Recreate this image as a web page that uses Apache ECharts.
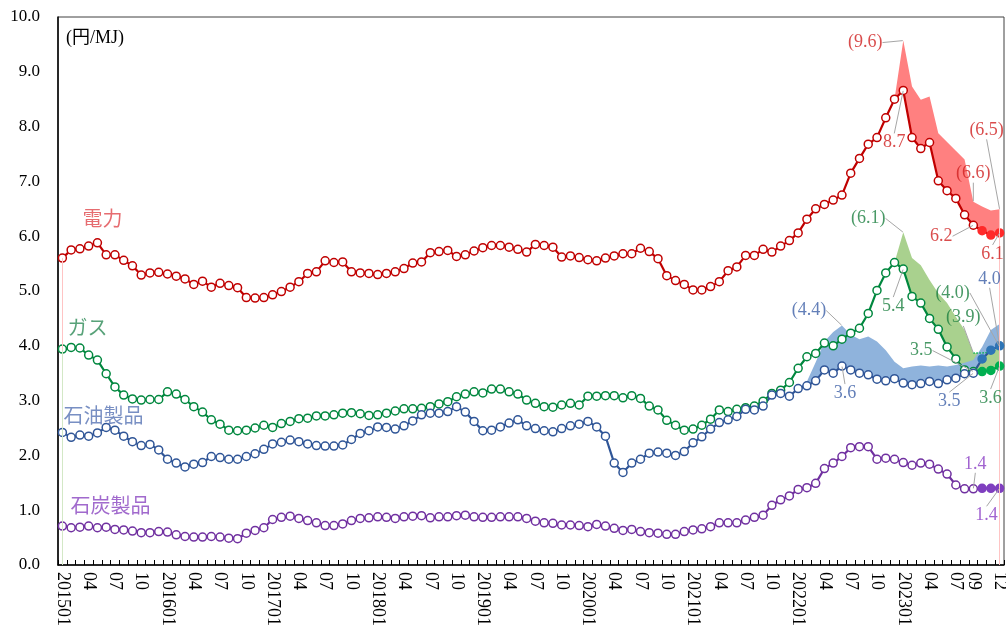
<!DOCTYPE html>
<html>
<head>
<meta charset="utf-8">
<script src="https://cdn.jsdelivr.net/npm/echarts@6.0.0/dist/echarts.min.js"></script>
<style>
html,body{margin:0;padding:0;background:#fff;}
#chart{width:1006px;height:639px;}
</style>
</head>
<body>
<div id="chart"></div>
<script>
// 月次カテゴリ 201501〜202312
var months = [];
for (var y = 2015; y <= 2023; y++) {
  for (var m = 1; m <= 12; m++) months.push(y + (m < 10 ? '0' : '') + m);
}
// 目盛ラベルを出す月
var tickMonths = [
  '201501','201504','201507','201510','201601','201604','201607','201610',
  '201701','201704','201707','201710','201801','201804','201807','201810',
  '201901','201904','201907','201910','202001','202004','202007','202010',
  '202101','202104','202107','202110','202201','202204','202207','202210',
  '202301','202304','202307','202309','202312'
];
var yTicks = [0, 1, 2, 3, 4, 5, 6, 7, 8, 9, 10];

// 円/MJ
var electricity = [
  5.60,5.75,5.77,5.82,5.88,5.66,5.66,5.56,5.46,5.29,5.33,5.34,
  5.31,5.27,5.22,5.12,5.18,5.07,5.14,5.10,5.06,4.88,4.87,4.88,
  4.93,4.99,5.07,5.17,5.32,5.35,5.55,5.52,5.53,5.35,5.33,5.32,
  5.30,5.32,5.35,5.41,5.51,5.53,5.70,5.72,5.74,5.63,5.66,5.73,
  5.79,5.83,5.83,5.80,5.76,5.71,5.85,5.83,5.80,5.62,5.64,5.61,
  5.57,5.55,5.60,5.64,5.68,5.68,5.78,5.72,5.59,5.28,5.19,5.12,
  5.02,5.02,5.08,5.17,5.37,5.44,5.65,5.65,5.76,5.71,5.82,5.92,
  6.06,6.31,6.50,6.58,6.66,6.75,7.15,7.42,7.68,7.80,8.16,8.50,
  8.66,7.80,7.60,7.71,7.01,6.83,6.69,6.39,6.20,6.10,6.02,6.06
];
var gas = [
  3.94,3.97,3.96,3.83,3.74,3.49,3.25,3.10,3.03,3.01,3.02,3.02,
  3.16,3.12,3.02,2.89,2.79,2.65,2.57,2.46,2.45,2.46,2.50,2.55,
  2.51,2.58,2.62,2.67,2.68,2.72,2.72,2.74,2.77,2.78,2.76,2.73,
  2.74,2.77,2.81,2.85,2.85,2.86,2.89,2.94,2.98,3.07,3.12,3.16,
  3.14,3.21,3.21,3.16,3.12,3.01,2.95,2.89,2.88,2.92,2.95,2.92,
  3.08,3.08,3.09,3.09,3.05,3.09,3.04,2.90,2.83,2.64,2.55,2.46,
  2.48,2.55,2.66,2.83,2.80,2.84,2.87,2.90,2.99,3.13,3.19,3.33,
  3.59,3.80,3.86,4.05,4.00,4.12,4.23,4.32,4.59,5.01,5.33,5.52,
  5.40,4.90,4.78,4.50,4.30,3.98,3.76,3.56,3.53,3.53,3.55,3.63
];
var oil = [
  2.42,2.33,2.37,2.35,2.41,2.51,2.46,2.35,2.25,2.18,2.20,2.10,
  1.93,1.86,1.79,1.84,1.87,1.98,1.96,1.93,1.93,1.98,2.03,2.11,
  2.21,2.24,2.28,2.25,2.21,2.18,2.17,2.17,2.19,2.29,2.40,2.45,
  2.52,2.51,2.48,2.54,2.63,2.74,2.77,2.77,2.80,2.89,2.79,2.62,
  2.45,2.46,2.52,2.59,2.65,2.54,2.49,2.45,2.43,2.49,2.54,2.57,
  2.62,2.52,2.35,1.86,1.69,1.86,1.93,2.04,2.06,2.04,2.00,2.07,
  2.23,2.34,2.48,2.60,2.65,2.71,2.84,2.83,2.90,3.10,3.13,3.08,
  3.22,3.27,3.36,3.56,3.50,3.63,3.56,3.50,3.47,3.39,3.36,3.40,
  3.32,3.29,3.31,3.35,3.31,3.38,3.41,3.49,3.50,3.76,3.92,4.00
];
var coal = [
  0.71,0.68,0.69,0.71,0.68,0.69,0.65,0.64,0.62,0.59,0.59,0.61,
  0.60,0.55,0.52,0.51,0.51,0.52,0.51,0.49,0.48,0.58,0.63,0.68,
  0.83,0.87,0.89,0.85,0.81,0.77,0.72,0.72,0.75,0.81,0.85,0.86,
  0.88,0.87,0.85,0.88,0.89,0.90,0.86,0.88,0.88,0.90,0.91,0.88,
  0.87,0.87,0.88,0.88,0.88,0.85,0.80,0.77,0.76,0.73,0.73,0.72,
  0.70,0.74,0.71,0.67,0.63,0.65,0.61,0.59,0.58,0.56,0.56,0.61,
  0.64,0.66,0.70,0.77,0.77,0.77,0.82,0.87,0.91,1.09,1.19,1.26,
  1.38,1.41,1.49,1.76,1.86,1.98,2.14,2.16,2.16,1.93,1.95,1.93,
  1.87,1.82,1.86,1.84,1.75,1.66,1.46,1.39,1.39,1.40,1.40,1.40
];
// 見通し（塗りつぶしマーカー）の開始月
var estimateFrom = '202310';

// 激変緩和措置がなかった場合（帯の上端）
var elecNoSubsidyFrom = '202212';
var elecNoSubsidy = [8.50,9.57,8.73,8.49,8.55,7.88,7.72,7.56,7.40,6.63,6.54,6.47,6.49];
var gasNoSubsidyFrom = '202212';
var gasNoSubsidy = [5.52,6.07,5.60,5.47,5.20,4.96,4.78,4.53,4.29,3.87,3.87,3.88,3.98];
var oilNoSubsidyFrom = '202201';
var oilNoSubsidy = [3.22,3.35,3.70,4.08,4.25,4.37,4.20,4.12,4.17,4.08,3.92,3.71,
                    3.59,3.62,3.64,3.62,3.64,3.62,3.65,3.69,3.74,3.98,4.29,4.40];
var gasDottedFrom = '202309';

var SERIF = "'Liberation Serif','Times New Roman',serif";
var CJK = "'Noto Sans CJK JP','Liberation Serif',sans-serif";

var chart = echarts.init(document.getElementById('chart'), null, {renderer: 'canvas'});
var estIdx = months.indexOf(estimateFrom);

function lineSeries(name, values, color, fill) {
  return {
    type: 'line', name: name, z: 3,
    data: values.map(function (v, i) {
      if (i >= estIdx) return {value: v, itemStyle: {color: fill, borderColor: fill}};
      return v;
    }),
    symbol: 'circle', symbolSize: 8, showAllSymbol: true,
    itemStyle: {color: '#fff', borderColor: color, borderWidth: 1.5},
    lineStyle: {color: color, width: 2.2},
    emphasis: {disabled: true}, silent: true
  };
}

// 帯 = 実績線の上に差分を積み上げ
function bandSeries(key, line, from, upper, color) {
  var s = months.indexOf(from);
  var base = months.map(function (m, i) { return i >= s ? line[i] : '-'; });
  var diff = months.map(function (m, i) {
    return i >= s ? +(upper[i - s] - line[i]).toFixed(3) : '-';
  });
  return [
    {type: 'line', stack: key, data: base, symbol: 'none', z: 1, silent: true,
     lineStyle: {width: 0, opacity: 0}},
    {type: 'line', stack: key, data: diff, symbol: 'none', z: 1, silent: true,
     lineStyle: {width: 0, opacity: 0}, areaStyle: {color: color, opacity: 1}}
  ];
}

function upperAt(from, upper, month) {
  return upper[months.indexOf(month) - months.indexOf(from)];
}

// 注記ラベル
function noteSeries(color, notes, font, size, guide) {
  return {
    type: 'scatter', z: 5, silent: true, symbolSize: 1,
    itemStyle: {color: 'rgba(0,0,0,0)'},
    data: notes.map(function (n) {
      return {value: [months.indexOf(n.month), n.v], label: {formatter: n.text}};
    }),
    label: {show: true, position: 'inside', color: color, fontFamily: font, fontSize: size},
    labelLine: {show: guide, lineStyle: {color: '#A6A6A6', width: 1}},
    labelLayout: function (p) {
      var n = notes[p.dataIndex];
      return {dx: n.dx, dy: n.dy};
    }
  };
}

function at(arr, month) { return arr[months.indexOf(month)]; }
function f1(v) { return v.toFixed(1); }
function p1(v) { return '(' + v.toFixed(1) + ')'; }

var redNotes = [
  {month: '202301', v: at(electricity, '202301'), text: f1(at(electricity, '202301')), dx: -9, dy: 52},
  {month: '202309', v: at(electricity, '202309'), text: f1(at(electricity, '202309')), dx: -32, dy: 11},
  {month: '202312', v: at(electricity, '202312'), text: f1(at(electricity, '202312')), dx: -7, dy: 21},
  {month: '202301', v: upperAt(elecNoSubsidyFrom, elecNoSubsidy, '202301'), text: p1(upperAt(elecNoSubsidyFrom, elecNoSubsidy, '202301')), dx: -38, dy: 2},
  {month: '202309', v: upperAt(elecNoSubsidyFrom, elecNoSubsidy, '202309'), text: p1(upperAt(elecNoSubsidyFrom, elecNoSubsidy, '202309')), dx: 0, dy: -28},
  {month: '202312', v: upperAt(elecNoSubsidyFrom, elecNoSubsidy, '202312'), text: p1(upperAt(elecNoSubsidyFrom, elecNoSubsidy, '202312')), dx: -13, dy: -79}
];
var greenNotes = [
  {month: '202301', v: at(gas, '202301'), text: f1(at(gas, '202301')), dx: -10, dy: 37},
  {month: '202309', v: at(gas, '202309'), text: f1(at(gas, '202309')), dx: -52, dy: -21},
  {month: '202312', v: at(gas, '202312'), text: f1(at(gas, '202312')), dx: -9, dy: 32},
  {month: '202301', v: upperAt(gasNoSubsidyFrom, gasNoSubsidy, '202301'), text: p1(upperAt(gasNoSubsidyFrom, gasNoSubsidy, '202301')), dx: -35, dy: -14},
  {month: '202309', v: upperAt(gasNoSubsidyFrom, gasNoSubsidy, '202309'), text: p1(upperAt(gasNoSubsidyFrom, gasNoSubsidy, '202309')), dx: -10, dy: -36},
  {month: '202312', v: upperAt(gasNoSubsidyFrom, gasNoSubsidy, '202312'), text: p1(upperAt(gasNoSubsidyFrom, gasNoSubsidy, '202312')), dx: -47, dy: -54}
];
var blueNotes = [
  {month: '202206', v: at(oil, '202206'), text: f1(at(oil, '202206')), dx: 3, dy: 27},
  {month: '202309', v: at(oil, '202309'), text: f1(at(oil, '202309')), dx: -24, dy: 28},
  {month: '202312', v: at(oil, '202312'), text: f1(at(oil, '202312')), dx: -10, dy: -67},
  {month: '202206', v: upperAt(oilNoSubsidyFrom, oilNoSubsidy, '202206'), text: p1(upperAt(oilNoSubsidyFrom, oilNoSubsidy, '202206')), dx: -33, dy: -15}
];
var purpleNotes = [
  {month: '202309', v: at(coal, '202309'), text: f1(at(coal, '202309')), dx: 2, dy: -25},
  {month: '202312', v: at(coal, '202312'), text: f1(at(coal, '202312')), dx: -13, dy: 27}
];

var series = [];
series = series.concat(bandSeries('eb', electricity, elecNoSubsidyFrom, elecNoSubsidy, '#FF8080'));
series = series.concat(bandSeries('gb', gas, gasNoSubsidyFrom, gasNoSubsidy, '#A9D18E'));
series = series.concat(bandSeries('ob', oil, oilNoSubsidyFrom, oilNoSubsidy, '#8FB3DC'));

var gd = months.indexOf(gasDottedFrom);
series.push({
  type: 'line', z: 2, silent: true, symbol: 'none',
  data: months.map(function (m, i) {
    return i >= gd ? upperAt(gasNoSubsidyFrom, gasNoSubsidy, m) : '-';
  }),
  lineStyle: {color: '#00B050', width: 1.5, type: 'dotted'}
});

var elecLine = lineSeries('電力', electricity, '#C00000', '#FF2A2A');
elecLine.markLine = {
  symbol: 'none', silent: true, label: {show: false},
  lineStyle: {color: '#FFC4C4', width: 1, type: 'solid'},
  data: [
    [{coord: [months[0], 0]}, {coord: [months[0], electricity[0]]}],
    [{coord: [months[107], 0]}, {coord: [months[107], elecNoSubsidy[elecNoSubsidy.length - 1]]}]
  ]
};
var gasLine = lineSeries('ガス', gas, '#00873E', '#00B050');
gasLine.markLine = {
  symbol: 'none', silent: true, label: {show: false},
  lineStyle: {color: '#D3E8C6', width: 1, type: 'solid'},
  data: [[{coord: [months[0], 0]}, {coord: [months[0], gas[0]]}]]
};

series.push(elecLine);
series.push(gasLine);
series.push(lineSeries('石油製品', oil, '#2F5597', '#2E75B6'));
series.push(lineSeries('石炭製品', coal, '#7030A0', '#7F3FBF'));

series.push(noteSeries('#D01F1F', redNotes, SERIF, 18, true));
series.push(noteSeries('#1B8040', greenNotes, SERIF, 18, true));
series.push(noteSeries('#3C5FA6', blueNotes, SERIF, 18, true));
series.push(noteSeries('#8A3CC4', purpleNotes, SERIF, 18, true));

// 系列名
series.push(noteSeries('#E0474C', [{month: months[0], v: electricity[0], text: '電力', dx: 40, dy: -40}], CJK, 20, false));
series.push(noteSeries('#2E8B57', [{month: months[0], v: gas[0], text: 'ガス', dx: 25, dy: -22}], CJK, 20, false));
series.push(noteSeries('#5673B4', [{month: months[0], v: oil[0], text: '石油製品', dx: 41, dy: -17}], CJK, 20, false));
series.push(noteSeries('#8A45C0', [{month: months[0], v: coal[0], text: '石炭製品', dx: 48, dy: -21}], CJK, 20, false));

chart.setOption({
  animation: false,
  backgroundColor: '#fff',
  grid: {
    left: 58, right: 2, top: 17, bottom: 74,
    show: true, borderColor: '#404040', borderWidth: 1,
    outerBoundsMode: 'none'
  },
  xAxis: {
    type: 'category', data: months, boundaryGap: true,
    axisLine: {lineStyle: {color: '#000', width: 1.5}},
    axisTick: {show: true, inside: true, length: 5, interval: 0, lineStyle: {color: '#000', width: 1}},
    axisLabel: {
      interval: 0, rotate: -90, margin: 7, color: '#000',
      fontFamily: SERIF, fontSize: 18,
      formatter: function (v) {
        if (tickMonths.indexOf(v) < 0) return '';
        return v.slice(4) === '01' ? v : v.slice(4);
      }
    },
    splitLine: {show: false}
  },
  yAxis: {
    type: 'value', min: yTicks[0], max: yTicks[yTicks.length - 1], interval: 1,
    name: '(円/MJ)', nameLocation: 'end', nameGap: -21,
    nameTextStyle: {align: 'left', verticalAlign: 'middle', padding: [0, 0, 0, 8],
                    color: '#000', fontFamily: "'Liberation Serif','Noto Sans CJK JP',serif", fontSize: 18},
    axisLine: {show: true, lineStyle: {color: '#000', width: 1.5}},
    axisTick: {show: false},
    axisLabel: {color: '#000', fontFamily: SERIF, fontSize: 17, margin: 18,
                formatter: function (v) { return v.toFixed(1); }},
    splitLine: {show: false}
  },
  series: series
});
</script>
</body>
</html>
